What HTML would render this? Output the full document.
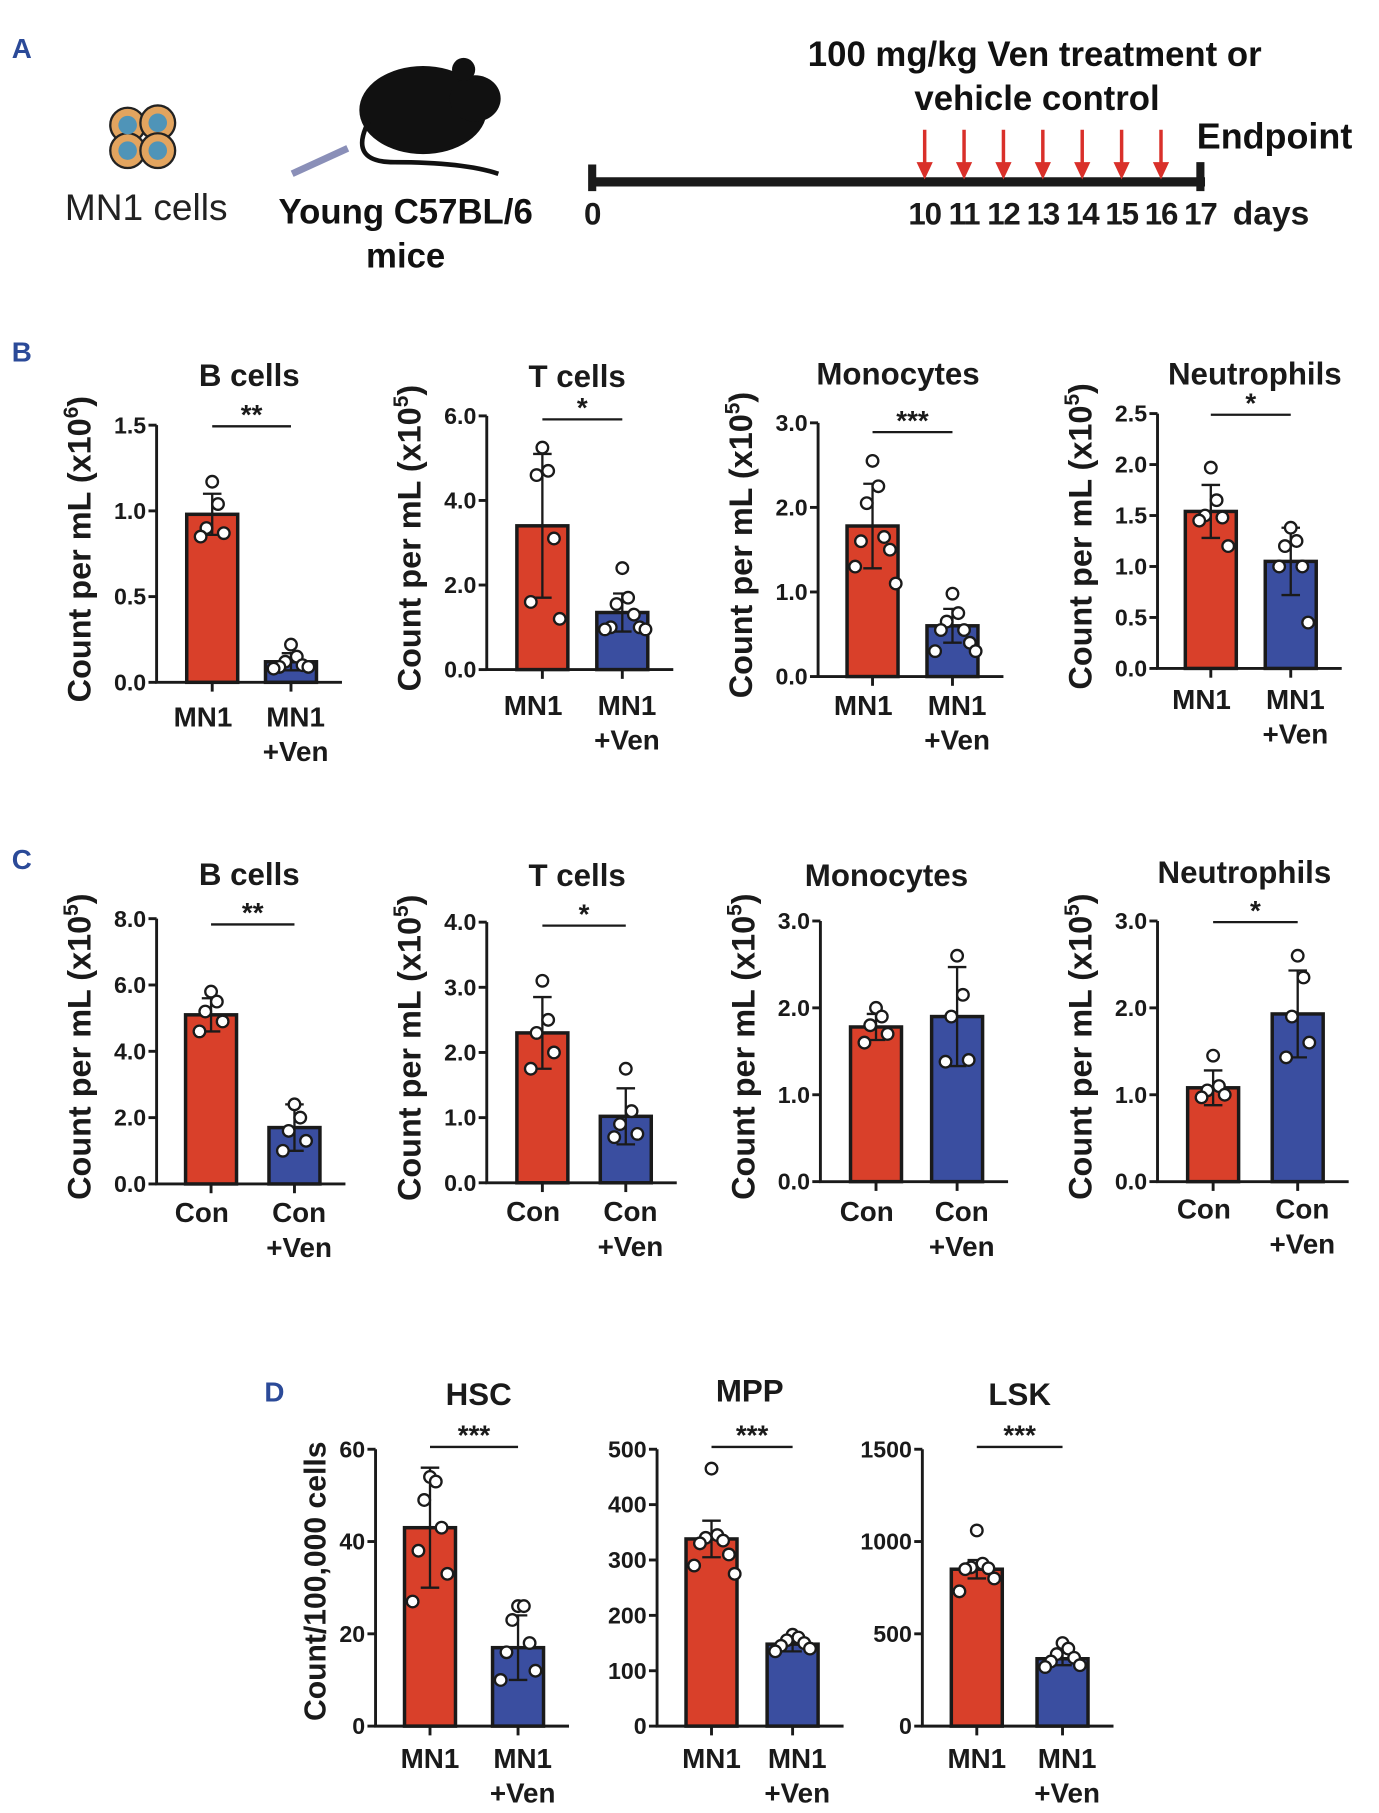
<!DOCTYPE html>
<html><head><meta charset="utf-8"><style>
html,body{margin:0;padding:0;background:#fff;}
svg{display:block;font-family:"Liberation Sans",Arial,sans-serif;}
</style></head><body>
<svg id="fig" width="1379" height="1813" viewBox="0 0 1190 1565" xmlns="http://www.w3.org/2000/svg">
<g>
<text x="10" y="50" font-size="24" font-weight="bold" fill="#2b4a98">A</text>
<g stroke="#222" stroke-width="2">
<circle cx="110" cy="108" r="15" fill="#e2a45f"/><circle cx="136" cy="106" r="15" fill="#e2a45f"/>
<circle cx="110" cy="130" r="15" fill="#e2a45f"/><circle cx="136" cy="130" r="15" fill="#e2a45f"/>
<g fill="#4f94b8" stroke="none"><circle cx="110" cy="108" r="8"/><circle cx="136" cy="106" r="8"/><circle cx="110" cy="130" r="8"/><circle cx="136" cy="130" r="8"/></g>
</g>
<text x="126" y="190" font-size="32" text-anchor="middle" fill="#222">MN1 cells</text>
<g>
<ellipse cx="365" cy="95" rx="55" ry="38" fill="#111"/>
<ellipse cx="410" cy="85" rx="22" ry="20" fill="#111"/>
<circle cx="400" cy="60" r="10" fill="#111"/>
<path d="M318 105 Q300 140 340 140 Q400 140 430 150" stroke="#111" stroke-width="4" fill="none"/>
<path d="M252 150 L300 128" stroke="#8a8fb8" stroke-width="6"/>
</g>
<text x="350" y="193" font-size="30" font-weight="bold" text-anchor="middle" fill="#111">Young C57BL/6</text>
<text x="350" y="231" font-size="30" font-weight="bold" text-anchor="middle" fill="#111">mice</text>
<text x="893" y="57" font-size="30" font-weight="bold" text-anchor="middle" fill="#111">100 mg/kg Ven treatment or</text>
<text x="895" y="95" font-size="30" font-weight="bold" text-anchor="middle" fill="#111">vehicle control</text>
<text x="1100" y="128" font-size="31" font-weight="bold" text-anchor="middle" fill="#111">Endpoint</text>
<g id="timeline"></g>
</g>
<g id="charts"></g>
</svg>
<script>
const NS="http://www.w3.org/2000/svg";
const RED="#d9402a",BLUE="#3a4ea0",INK="#1a1a1a";
// timeline data
const doseDays=[10,11,12,13,14,15,16];
const dayLabels=[0,10,11,12,13,14,15,16,17];
// chart data
const chartTitles=["B cells","T cells","Monocytes","Neutrophils","B cells","T cells","Monocytes","Neutrophils","HSC","MPP","LSK"];
const groupNamesB=["MN1","+Ven"];
const yMaxes=[1.5,6,3,2.5,8,4,3,3,60,500,1500];
const yTickLabels=[["0.0","0.5","1.0","1.5"],["0.0","2.0","4.0","6.0"],["0.0","1.0","2.0","3.0"],["0.0","0.5","1.0","1.5","2.0","2.5"],["0.0","2.0","4.0","6.0","8.0"],["0.0","1.0","2.0","3.0","4.0"],["0.0","1.0","2.0","3.0"],["0.0","1.0","2.0","3.0"],["0","20","40","60"],["0","100","200","300","400","500"],["0","500","1000","1500"]];
const barCtrl=[0.98,3.4,1.78,1.54,5.1,2.3,1.78,1.08,43,338,850];
const barVen=[0.12,1.35,0.6,1.05,1.7,1.02,1.9,1.93,17,148,365];
const errCtrl=[0.12,1.7,0.5,0.26,0.5,0.55,0.15,0.2,13,33,50];
const errVen=[0.05,0.45,0.2,0.33,0.7,0.43,0.57,0.5,7,13,35];
const ptsCtrl=[[1.17,1.04,0.9,0.87,0.85],[5.25,4.7,4.6,3.1,1.6,1.2],[2.55,2.25,2.05,1.65,1.6,1.5,1.3,1.1],[1.97,1.65,1.5,1.48,1.45,1.2],[5.8,5.5,5.2,4.9,4.6],[3.1,2.5,2.3,2.0,1.75],[2.0,1.9,1.8,1.7,1.6],[1.45,1.1,1.05,1.0,0.97],[54,53,49,43,38,33,27],[465,345,340,335,330,310,290,275],[1060,880,860,855,850,800,730]];
const ptsVen=[[0.22,0.15,0.12,0.1,0.09,0.09,0.08],[2.4,1.7,1.55,1.3,1.0,1.0,0.95,0.95],[0.98,0.75,0.65,0.55,0.55,0.4,0.3,0.3],[1.38,1.25,1.2,1.0,1.0,0.45],[2.4,2.0,1.6,1.3,1.0],[1.75,1.1,0.9,0.75,0.7],[2.6,2.15,1.9,1.4,1.38],[2.6,2.35,1.9,1.6,1.43],[26,26,23,18,16,12,10],[165,160,155,150,145,140,135],[450,420,390,370,350,330,320]];
const sigLabels=["**","*","***","*","**","*","","*","***","***","***"];
const ctrlNames=["MN1","MN1","MN1","MN1","Con","Con","Con","Con","MN1","MN1","MN1"];
const venNames=["MN1","MN1","MN1","MN1","Con","Con","Con","Con","MN1","MN1","MN1"];
const expLabels=["6","5","5","5","5","5","5","5","","",""];
// layout (not data)
const L=[
 {ax:135,y0:589,yT:367,c1:183,c2:251,lab:627,ty:333,sy:368,tc:215},
 {ax:420,y0:578,yT:359,c1:468,c2:537,lab:617,ty:334,sy:362,tc:498},
 {ax:706,y0:584,yT:365,c1:753,c2:822,lab:617,ty:332,sy:373,tc:775},
 {ax:999,y0:577,yT:357,c1:1045,c2:1114,lab:612,ty:332,sy:358,tc:1083},
 {ax:135,y0:1022,yT:793,c1:182,c2:254,lab:1055,ty:764,sy:798,tc:215},
 {ax:420,y0:1021,yT:796,c1:468,c2:540,lab:1054,ty:765,sy:799,tc:498},
 {ax:708,y0:1020,yT:795,c1:756,c2:826,lab:1054,ty:765,sy:0,tc:765},
 {ax:999,y0:1020,yT:795,c1:1047,c2:1120,lab:1052,ty:762,sy:796,tc:1074},
 {ax:324,y0:1490,yT:1251,c1:371,c2:447,lab:1526,ty:1213,sy:1249,tc:413,notitle:1},
 {ax:567,y0:1490,yT:1251,c1:614,c2:684,lab:1526,ty:1210,sy:1249,tc:647,notitle:1},
 {ax:796,y0:1490,yT:1251,c1:843,c2:917,lab:1526,ty:1213,sy:1249,tc:880,notitle:1}];
function mk(tag,attrs,parent,txt){const e=document.createElementNS(NS,tag);for(const k in attrs)e.setAttribute(k,attrs[k]);if(txt!==undefined)e.textContent=txt;parent.appendChild(e);return e;}
// timeline
const tl=document.getElementById('timeline');
const dayX=d=>d===0?511:798+(d-10)*34;
let ln=mk('line',{x1:508,y1:157,x2:1040,y2:157,stroke:INK,'stroke-width':8},tl);

mk('line',{x1:511,y1:142,x2:511,y2:165,stroke:INK,'stroke-width':7},tl);
mk('line',{x1:1036,y1:140,x2:1036,y2:165,stroke:INK,'stroke-width':7},tl);
doseDays.forEach(d=>{const g=mk('g',{},tl);

mk('line',{x1:dayX(d),y1:112,x2:dayX(d),y2:145,stroke:'#d9302a','stroke-width':3},g);
mk('path',{d:`M${dayX(d)-7} 140 L${dayX(d)+7} 140 L${dayX(d)} 155 Z`,fill:'#d9302a'},g);});
dayLabels.forEach(d=>{const t=mk('text',{x:dayX(d),y:194,'font-size':27,'font-weight':'bold','text-anchor':'middle',fill:INK,'letter-spacing':'-1'},tl,String(d));
});
mk('text',{x:1097,y:194,'font-size':29,'font-weight':'bold','text-anchor':'middle',fill:INK},tl,'days');
// panel letters
const root=document.getElementById('charts');
[['B',10,312],['C',10,750],['D',228,1210]].forEach(p=>{const t=mk('text',{x:p[1],y:p[2],'font-size':24,'font-weight':'bold',fill:'#2b4a98'},root,p[0]);
});
// charts
for(let i=0;i<L.length;i++){
 const l=L[i],g=mk('g',{},root);
 
 
 const ymax=yMaxes[i],Y=v=>l.y0-(v/ymax)*(l.y0-l.yT);
 const bw=44;
 [[barCtrl[i],l.c1,RED,errCtrl[i],ptsCtrl[i],'ctrl'],[barVen[i],l.c2,BLUE,errVen[i],ptsVen[i],'ven']].forEach(b=>{
  const r=mk('rect',{x:b[1]-bw/2,y:Y(b[0]),width:bw,height:l.y0-Y(b[0]),fill:b[2],stroke:INK,'stroke-width':3},g);
  
  const e=mk('path',{d:`M${b[1]} ${Y(b[0]+b[3])} V${Y(b[0]-b[3])} M${b[1]-8} ${Y(b[0]+b[3])} H${b[1]+8} M${b[1]-8} ${Y(b[0]-b[3])} H${b[1]+8}`,stroke:INK,'stroke-width':2,fill:'none'},g);
  
  b[4].forEach((v,k)=>{const off=(k%2?1:-1)*Math.ceil(k/2)*5;
   const c=mk('circle',{cx:b[1]+off,cy:Y(v),r:5,fill:'#fff',stroke:INK,'stroke-width':2},g);
   });
  mk('line',{x1:b[1],y1:l.y0,x2:b[1],y2:l.y0+8,stroke:INK,'stroke-width':2.5},g);
 });
 const ax=mk('path',{d:`M${l.ax} ${l.yT} V${l.y0} H${l.c2+bw/2+22}`,stroke:INK,'stroke-width':2.5,fill:'none'},g);
 
 const tl2=yTickLabels[i];
 tl2.forEach((s,k)=>{const v=ymax*k/(tl2.length-1);
  mk('line',{x1:l.ax-7,y1:Y(v),x2:l.ax,y2:Y(v),stroke:INK,'stroke-width':2.5},g);
  const t=mk('text',{x:l.ax-9,y:Y(v)+7,'font-size':20,'font-weight':'bold','text-anchor':'end',fill:INK},g,s);
  });
 const tt=mk('text',{x:l.tc,y:l.ty,'font-size':27,'font-weight':'bold','text-anchor':'middle',fill:INK},g,chartTitles[i]);
 
 if(sigLabels[i]){
  mk('line',{x1:l.c1,y1:l.sy,x2:l.c2,y2:l.sy,stroke:INK,'stroke-width':2},g);
  const s=mk('text',{x:(l.c1+l.c2)/2,y:l.sy-2,'font-size':24,'font-weight':'bold','text-anchor':'middle',fill:INK},g,sigLabels[i]);
  }
 const x1=mk('text',{x:l.c1-(i>=8?0:8),y:l.lab,'font-size':24,'font-weight':'bold','text-anchor':'middle',fill:INK},g,ctrlNames[i]);
 
 const x2=mk('text',{x:l.c2+4,y:l.lab,'font-size':24,'font-weight':'bold','text-anchor':'middle',fill:INK},g,venNames[i]);
 
 const x3=mk('text',{x:l.c2+4,y:l.lab+30,'font-size':24,'font-weight':'bold','text-anchor':'middle',fill:INK},g,groupNamesB[1]);
 
 if(!l.notitle){const cy=(l.y0+l.yT)/2-4;
  const t=mk('text',{transform:`translate(${l.ax-57},${cy}) rotate(-90)`,'font-size':28,'font-weight':'bold','text-anchor':'middle',fill:INK},g);
  
  mk('tspan',{},t,'Count per mL (x10');mk('tspan',{'font-size':18,dy:-11},t,expLabels[i]);mk('tspan',{dy:11},t,')');}
}
const yt=mk('text',{transform:'translate(281,1365) rotate(-90)','font-size':26,'font-weight':'bold','text-anchor':'middle',fill:INK},root,'Count/100,000 cells');

</script>
</body></html>
